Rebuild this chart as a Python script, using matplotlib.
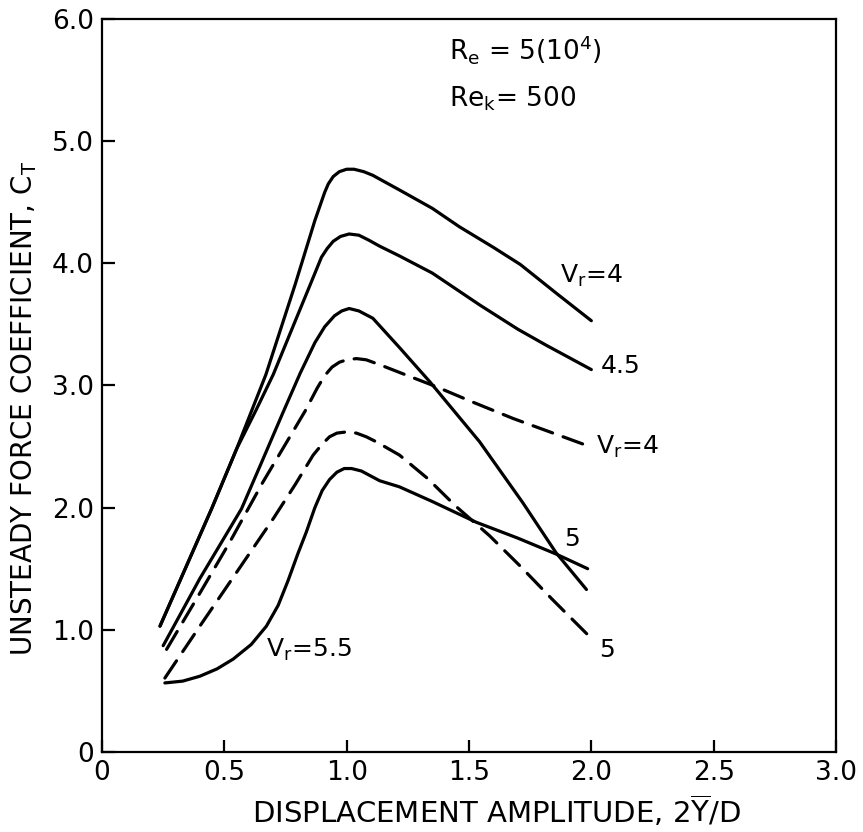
import matplotlib
matplotlib.use('Agg')
import matplotlib.pyplot as plt

plt.rcParams['font.family'] = ['DejaVu Sans']
plt.rcParams['mathtext.default'] = 'regular'

# solid curves, Vr = 4, 4.5, 5, 5.5
x_s4 = [0.237, 0.45, 0.55, 0.67, 0.79, 0.87, 0.91, 0.925, 0.945, 0.97, 1.00, 1.03, 1.07, 1.107, 1.216, 1.35, 1.46, 1.60, 1.71, 1.86, 2.00]
y_s4 = [1.03, 2.00, 2.48, 3.09, 3.83, 4.35, 4.58, 4.65, 4.71, 4.75, 4.77, 4.77, 4.75, 4.72, 4.60, 4.45, 4.30, 4.13, 3.99, 3.75, 3.53]

x_s45 = [0.237, 0.45, 0.55, 0.63, 0.70, 0.78, 0.85, 0.897, 0.92, 0.945, 0.975, 1.01, 1.05, 1.09, 1.135, 1.216, 1.35, 1.543, 1.70, 1.815, 2.00]
y_s45 = [1.03, 2.00, 2.48, 2.80, 3.09, 3.48, 3.82, 4.05, 4.12, 4.18, 4.22, 4.24, 4.23, 4.19, 4.14, 4.06, 3.92, 3.66, 3.46, 3.33, 3.13]

x_s5 = [0.25, 0.40, 0.57, 0.65, 0.74, 0.81, 0.87, 0.91, 0.95, 0.98, 1.01, 1.05, 1.107, 1.216, 1.34, 1.543, 1.72, 1.856, 1.98]
y_s5 = [0.87, 1.42, 1.99, 2.36, 2.78, 3.10, 3.35, 3.48, 3.57, 3.61, 3.63, 3.61, 3.55, 3.31, 3.03, 2.54, 2.04, 1.63, 1.33]

x_s55 = [0.257, 0.33, 0.40, 0.47, 0.536, 0.61, 0.672, 0.72, 0.76, 0.80, 0.835, 0.87, 0.90, 0.93, 0.96, 0.99, 1.02, 1.06, 1.135, 1.216, 1.35, 1.53, 1.70, 1.856, 1.985]
y_s55 = [0.565, 0.58, 0.62, 0.68, 0.76, 0.88, 1.03, 1.20, 1.40, 1.62, 1.80, 2.00, 2.14, 2.23, 2.29, 2.32, 2.32, 2.30, 2.22, 2.17, 2.05, 1.88, 1.75, 1.62, 1.50]

# dashed curves, Vr = 4, 5
x_d4 = [0.264, 0.40, 0.52, 0.658, 0.75, 0.83, 0.88, 0.91, 0.94, 0.97, 1.00, 1.04, 1.08, 1.135, 1.25, 1.366, 1.52, 1.68, 1.83, 1.98]
y_d4 = [0.84, 1.30, 1.71, 2.21, 2.52, 2.79, 2.98, 3.08, 3.15, 3.19, 3.21, 3.22, 3.21, 3.17, 3.08, 2.99, 2.86, 2.73, 2.62, 2.51]

x_d5 = [0.257, 0.40, 0.55, 0.70, 0.79, 0.863, 0.90, 0.93, 0.96, 1.00, 1.04, 1.08, 1.12, 1.216, 1.33, 1.447, 1.584, 1.71, 1.84, 1.99]
y_d5 = [0.605, 1.03, 1.47, 1.91, 2.19, 2.43, 2.52, 2.58, 2.61, 2.62, 2.61, 2.58, 2.54, 2.43, 2.24, 2.01, 1.77, 1.52, 1.25, 0.95]

x_ticks = [0, 0.5, 1.0, 1.5, 2.0, 2.5, 3.0]
x_ticklabels = ['0', '0.5', '1.0', '1.5', '2.0', '2.5', '3.0']
y_ticks = [0, 1, 2, 3, 4, 5, 6]
y_ticklabels = ['0', '1.0', '2.0', '3.0', '4.0', '5.0', '6.0']

fig = plt.figure(figsize=(8.63, 8.32), dpi=100)
ax = fig.add_axes([0.1182, 0.0962, 0.8505, 0.881])

lw = 2.3
for xs, ys in [(x_s4, y_s4), (x_s45, y_s45), (x_s5, y_s5), (x_s55, y_s55)]:
    ax.plot(xs, ys, color='black', lw=lw, solid_capstyle='round', solid_joinstyle='round')
for xs, ys in [(x_d4, y_d4), (x_d5, y_d5)]:
    ax.plot(xs, ys, color='black', lw=lw, linestyle=(0, (6.5, 3.5)), dash_capstyle='round')

ax.set_xlim(0, 3.0)
ax.set_ylim(0, 6.0)
ax.set_xticks(x_ticks)
ax.set_xticklabels(x_ticklabels)
ax.set_yticks(y_ticks)
ax.set_yticklabels(y_ticklabels)
ax.tick_params(direction='in', length=9, width=1.6, labelsize=19, pad=6)
for sp in ax.spines.values():
    sp.set_linewidth(1.6)

ax.set_xlabel(r'DISPLACEMENT AMPLITUDE, 2$\overline{Y}$/D', fontsize=21)
ax.xaxis.set_label_coords(0.538, -0.057)
ax.set_ylabel('UNSTEADY FORCE COEFFICIENT, C$_T$', fontsize=20)
ax.yaxis.set_label_coords(-0.086, 0.469)

fs = 18
ax.text(1.87, 3.84, 'V$_r$=4', fontsize=fs)
ax.text(2.04, 3.10, '4.5', fontsize=fs)
ax.text(2.02, 2.44, 'V$_r$=4', fontsize=fs)
ax.text(1.89, 1.69, '5', fontsize=fs)
ax.text(2.03, 0.78, '5', fontsize=fs)
ax.text(0.672, 0.78, 'V$_r$=5.5', fontsize=fs)
ax.text(1.42, 5.67, 'R$_e$ = 5(10$^4$)', fontsize=19)
ax.text(1.42, 5.28, 'Re$_k$= 500', fontsize=19)

fig.savefig('out.png', dpi=100)
